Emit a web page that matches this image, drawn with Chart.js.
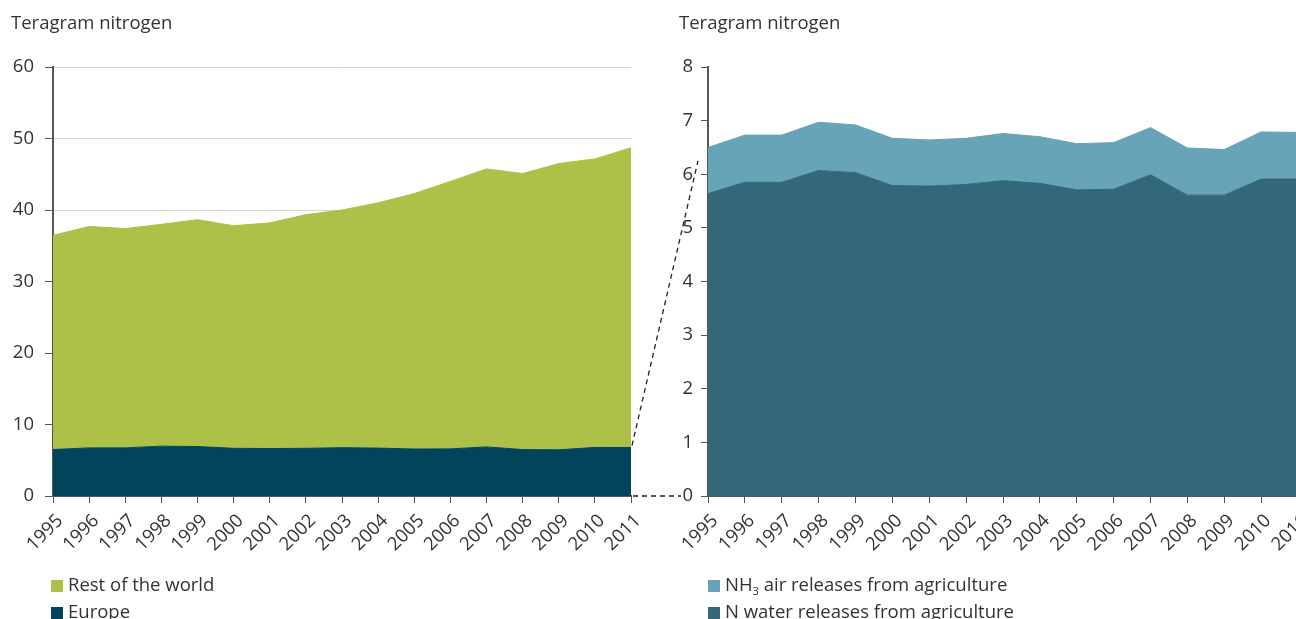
<!DOCTYPE html>
<html lang="en">
<head>
<meta charset="UTF-8">
<title>Teragram nitrogen</title>
<script src="https://cdn.jsdelivr.net/npm/chart.js@4.4.0/dist/chart.umd.min.js"></script>
<style>
    html, body { margin: 0; padding: 0; background: #fff; overflow: hidden; }
    body { width: 1296px; height: 619px; position: relative; font-family: 'Open Sans', sans-serif; color: #333; }
    .panel { position: absolute; top: 0; }
    .unit { position: absolute; top: 9px; font-size: 18.5px; }
    .legend { position: absolute; top: 570px; font-size: 18.5px; line-height: 27px; }
    .legend div { white-space: nowrap; }
    .legend span { display: inline-block; width: 12px; height: 12px; margin-right: 5px; vertical-align: -1px; }
    #overlay { position: absolute; left: 0; top: 0; pointer-events: none; }
</style>
</head>
<body>

<div class="panel" style="left:0"><canvas id="worldChart" width="650" height="619"></canvas></div>
<div class="panel" style="left:640px"><canvas id="europeChart" width="700" height="619"></canvas></div>
<canvas id="overlay" width="1296" height="619"></canvas>

<div class="unit" style="left:11px">Teragram nitrogen</div>
<div class="unit" style="left:679px">Teragram nitrogen</div>
<div class="legend" id="worldLegend" style="left:51px"></div>
<div class="legend" id="europeLegend" style="left:708px"></div>

<script>
const years = ['1995', '1996', '1997', '1998', '1999', '2000', '2001', '2002', '2003',
    '2004', '2005', '2006', '2007', '2008', '2009', '2010', '2011'];

// left panel
const europe = [6.50, 6.73, 6.73, 6.97, 6.92, 6.67, 6.64, 6.67, 6.76,
    6.70, 6.57, 6.59, 6.87, 6.49, 6.46, 6.79, 6.78];
const restOfWorld = [29.95, 30.97, 30.67, 31.03, 31.73, 31.13, 31.56, 32.68, 33.24,
    34.3, 35.73, 37.41, 38.88, 38.61, 40.04, 40.36, 41.92];

// right panel (Europe split)
const nWater = [5.64, 5.85, 5.85, 6.07, 6.03, 5.79, 5.78, 5.81, 5.88,
    5.83, 5.71, 5.72, 5.99, 5.61, 5.61, 5.91, 5.91];
const nh3Air = [0.86, 0.88, 0.88, 0.90, 0.89, 0.88, 0.86, 0.86, 0.88,
    0.87, 0.86, 0.87, 0.88, 0.88, 0.85, 0.88, 0.87];

Chart.defaults.font.family = "'Open Sans', sans-serif";
Chart.defaults.font.size = 18.5;
Chart.defaults.color = '#333';

function area(label, values, color, fill, legendHtml) {
    return {
        label: label, data: values, fill: fill,
        backgroundColor: color, borderColor: color, borderWidth: 1,
        pointRadius: 0, tension: 0, legendHtml: legendHtml || label
    };
}

function yAxis(max, step, width, tickLen, pad, showGrid) {
    return {
        stacked: true, min: 0, max: max,
        ticks: { stepSize: step, padding: pad, color: '#333' },
        grid: { drawOnChartArea: showGrid, color: '#d4d4d4', tickColor: '#555', tickLength: tickLen },
        border: { color: '#555', width: 2 },
        afterFit(s) { s.width = width; }
    };
}

function xAxis() {
    return {
        ticks: { minRotation: 45, maxRotation: 45, autoSkip: false, padding: 7, labelOffset: 7, color: '#333' },
        grid: { drawOnChartArea: false, tickColor: '#555', tickLength: 7 },
        border: { color: '#555', width: 2 },
        // keep the plot edges where the layout padding puts them
        afterFit(s) { s.height = 70; s.paddingLeft = 0; s.paddingRight = 0; }
    };
}

function makeChart(id, datasets, yScale, padRight) {
    return new Chart(document.getElementById(id), {
        type: 'line',
        data: { labels: years, datasets: datasets },
        options: {
            responsive: false,
            animation: false,
            layout: { padding: { top: 67, bottom: 619 - 496 - 70, left: 0, right: padRight } },
            plugins: { legend: { display: false }, tooltip: { enabled: false } },
            scales: { x: xAxis(), y: yScale }
        }
    });
}

const worldChart = makeChart('worldChart', [
    area('Europe', europe, '#02455b', 'origin'),
    area('Rest of the world', restOfWorld, '#adc148', '-1')
], yAxis(60, 10, 53, 8, 11, true), 650 - 631);

const europeChart = makeChart('europeChart', [
    area('N water releases from agriculture', nWater, '#33687a', 'origin'),
    area('NH3 air releases from agriculture', nh3Air, '#67a4b7', '-1',
        'NH<sub style="font-size:11px;vertical-align:-4px;line-height:0">3</sub> air releases from agriculture')
], yAxis(8, 1, 68, 7, 8, false), 700 - 1298 + 640);

function htmlLegend(chart, id) {
    const box = document.getElementById(id);
    chart.data.datasets.slice().reverse().forEach(ds => {
        const row = document.createElement('div');
        row.innerHTML = '<span style="background:' + ds.backgroundColor + '"></span>' + ds.legendHtml;
        box.appendChild(row);
    });
}
htmlLegend(worldChart, 'worldLegend');
htmlLegend(europeChart, 'europeLegend');

// dashed zoom lines between the two panels
(function () {
    const ctx = document.getElementById('overlay').getContext('2d');
    const lx = worldChart.scales.x, ly = worldChart.scales.y;
    const ry = europeChart.scales.y;
    const rightLeft = 640 + europeChart.chartArea.left;
    const last = years.length - 1;
    ctx.strokeStyle = '#222';
    ctx.lineWidth = 1.3;
    ctx.setLineDash([5, 4]);
    ctx.beginPath();
    ctx.moveTo(lx.getPixelForValue(last) + 1, ly.getPixelForValue(europe[last]) - 2);
    ctx.lineTo(rightLeft - 10, ry.getPixelForValue(6.25));
    ctx.moveTo(lx.getPixelForValue(last) + 2, ly.getPixelForValue(0));
    ctx.lineTo(rightLeft - 27, ry.getPixelForValue(0));
    ctx.stroke();
})();
</script>
</body>
</html>
